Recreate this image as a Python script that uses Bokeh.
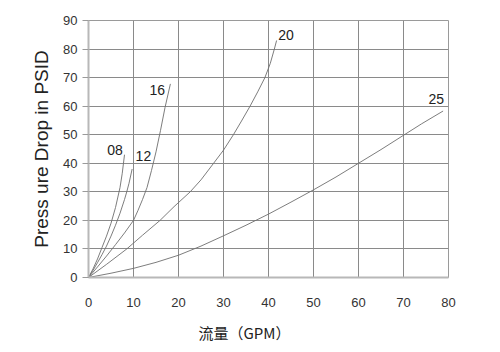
from bokeh.plotting import figure
from bokeh.models import Range1d, FixedTicker, Label, Title
from bokeh.embed import file_html
from bokeh.resources import INLINE

# ---- data ----
x_08 = [0, 1, 2, 3, 4, 5, 6, 7, 7.5, 8.0]
y_08 = [0, 3, 6.5, 10.5, 14.5, 19, 24.5, 31.5, 36.5, 43]

x_12 = [0, 1, 2, 3, 4, 5, 6, 7, 8, 8.5, 9, 9.7]
y_12 = [0, 2.5, 5.2, 8, 11, 14.5, 18.3, 22.5, 27.3, 30, 33, 38]

x_16 = [0, 2, 4, 6, 8, 10, 11, 12, 13, 14, 15, 16, 17, 18.2]
y_16 = [0, 3.7, 7.5, 11.5, 15.6, 20, 23.5, 27.3, 31.5, 37.5, 44, 51.5, 59.5, 67.8]

x_20 = [0, 4, 8.5, 12, 15.9, 19, 22.6, 25, 27.8, 30, 32.2, 34, 35.9, 37.6,
        39.2, 40.4, 41.3, 41.8]
y_20 = [0, 4.6, 10, 14.8, 20, 24.8, 30, 34.2, 40, 44.6, 50, 54.8, 60, 65,
        70, 75, 80, 83]

x_25 = [0, 5, 10, 15, 20, 25, 30, 35, 40, 45, 50, 55, 60, 65, 70, 74, 78.8]
y_25 = [0, 1.5, 3.2, 5.3, 7.8, 11, 14.6, 18.3, 22.2, 26.4, 30.7, 35.2, 40,
        44.8, 49.8, 53.8, 58.3]

series_names = ["08", "12", "16", "20", "25"]
label_x = [5.9, 12.2, 15.3, 43.9, 77.3]
label_y = [44.8, 42.4, 65.6, 84.9, 62.5]

x_ticks = [0, 10, 20, 30, 40, 50, 60, 70, 80]
y_ticks = [0, 10, 20, 30, 40, 50, 60, 70, 80, 90]

x_title = "流量（GPM）"
y_title = "Press ure Drop in PSID"

FONT = "Liberation Sans"

p = figure(width=500, height=352, output_backend="svg", toolbar_location=None,
           x_range=Range1d(0, 80), y_range=Range1d(0, 90),
           min_border_left=88, min_border_right=52,
           min_border_top=20, min_border_bottom=75)
p.background_fill_color = "white"
p.border_fill_color = "white"
p.outline_line_color = "#9a9a9a"
p.outline_line_width = 1

# grid
p.xaxis.ticker = FixedTicker(ticks=x_ticks)
p.yaxis.ticker = FixedTicker(ticks=y_ticks)
for g in (p.xgrid, p.ygrid):
    g.grid_line_color = "#8a8a8a"
    g.grid_line_width = 1

# axes
p.xaxis.axis_line_color = "#b8b8b8"
p.xaxis.axis_line_width = 2
p.xaxis.major_tick_line_color = None
p.xaxis.minor_tick_line_color = None
p.xaxis.major_tick_out = 0
p.xaxis.major_tick_in = 0
p.xaxis.minor_tick_out = 0
p.xaxis.major_label_standoff = 20
p.yaxis.axis_line_color = "#b8b8b8"
p.yaxis.axis_line_width = 2
p.yaxis.major_tick_line_color = "#9a9a9a"
p.yaxis.major_tick_in = 0
p.yaxis.major_tick_out = 6
p.yaxis.minor_tick_line_color = None
p.yaxis.major_label_standoff = 5
for ax in (p.xaxis, p.yaxis):
    ax.major_label_text_font = FONT
    ax.major_label_text_font_size = "13px"
    ax.major_label_text_color = "#333333"

p.yaxis.axis_label = y_title
p.yaxis.axis_label_text_font = FONT
p.yaxis.axis_label_text_font_size = "19px"
p.yaxis.axis_label_text_font_style = "normal"
p.yaxis.axis_label_text_color = "#222222"
p.yaxis.axis_label_standoff = 8

# curves
xs = [x_08, x_12, x_16, x_20, x_25]
ys = [y_08, y_12, y_16, y_20, y_25]
for xx, yy in zip(xs, ys):
    p.line(xx, yy, line_color="#6e6e6e", line_width=0.9)

for name, lx, ly in zip(series_names, label_x, label_y):
    p.add_layout(Label(x=lx, y=ly, text=name, text_align="center",
                       text_baseline="middle", text_font=FONT,
                       text_font_size="14px", text_color="#222222"))

# x title below the axis
p.add_layout(Title(text=x_title, align="left", offset=110, standoff=20,
                   text_font="Noto Sans CJK SC", text_font_size="15px",
                   text_font_style="normal", text_color="#222222"), "below")

open("out.html", "w").write(file_html(p, INLINE))
